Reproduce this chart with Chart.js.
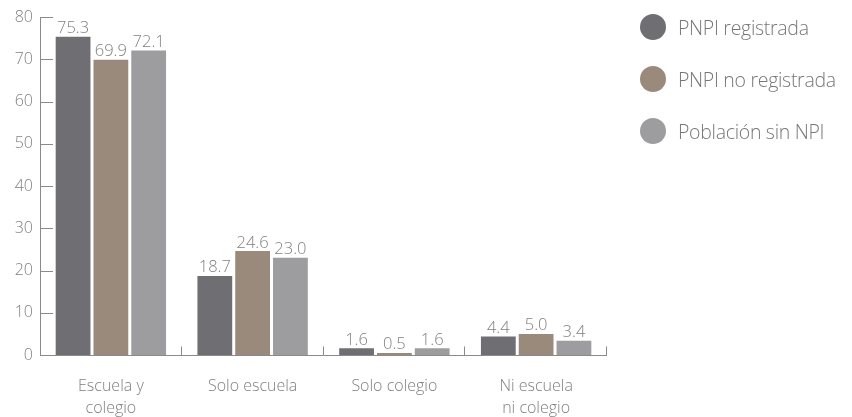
<!DOCTYPE html>
<html>
<head>
<meta charset="utf-8">
<script src="https://cdn.jsdelivr.net/npm/chart.js@4"></script>
<style>
  body { margin: 0; background: #fff; }
  #wrap { position: relative; width: 852px; height: 417px; }
  #legend { position: absolute; left: 640px; top: 0; font-family: "Open Sans", sans-serif; font-weight: 300; font-size: 19.5px; letter-spacing: -0.3px; color: #777; }
  .item { position: absolute; left: 0; white-space: nowrap; display: flex; align-items: center; height: 28px; }
  .dot { width: 26px; height: 26px; border-radius: 50%; margin-right: 12px; }
</style>
</head>
<body>
<div id="wrap">
  <canvas id="barChart" width="852" height="417"></canvas>
  <div id="legend"></div>
</div>
<script>
// Categories and series
const categories = [["Escuela y", "colegio"], "Solo escuela", "Solo colegio", ["Ni escuela", "ni colegio"]];
const seriesNames = ["PNPI registrada", "PNPI no registrada", "Población sin NPI"];
const registrada = [75.3, 18.7, 1.6, 4.4];
const noRegistrada = [69.9, 24.6, 0.5, 5.0];
const sinNpi = [72.1, 23.0, 1.6, 3.4];
const yTicks = [0, 10, 20, 30, 40, 50, 60, 70, 80];
const colors = ['#6f6e73', '#9a8a7c', '#9d9c9e'];

const textColor = '#808080';
const axisColor = '#8a8a8a';
const fontFamily = '"Open Sans", sans-serif';

// Legend as html
const legend = document.getElementById('legend');
seriesNames.forEach((name, i) => {
    const item = document.createElement('div');
    item.className = 'item';
    item.style.top = (13 + i * 52) + 'px';
    item.innerHTML = '<span class="dot" style="background:' + colors[i] + '"></span>' + name;
    legend.appendChild(item);
});

// Value labels above bars, plus the small axis ticks
const decorations = {
    id: 'decorations',
    afterDatasetsDraw(chart) {
        const ctx = chart.ctx;
        ctx.save();
        ctx.font = '300 16.5px ' + fontFamily;
        ctx.fillStyle = textColor;
        ctx.textAlign = 'center';
        ctx.textBaseline = 'bottom';
        chart.data.datasets.forEach((ds, i) => {
            chart.getDatasetMeta(i).data.forEach((bar, j) => {
                ctx.fillText(ds.data[j].toFixed(1), bar.x, bar.y);
            });
        });

        const area = chart.chartArea;
        const y = chart.scales.y;
        ctx.strokeStyle = axisColor;
        ctx.lineWidth = 1;
        ctx.beginPath();
        // y axis line and inward ticks
        ctx.moveTo(area.left + 0.5, area.top);
        ctx.lineTo(area.left + 0.5, area.bottom);
        yTicks.forEach(v => {
            if (v === 0) return;
            const py = Math.round(y.getPixelForValue(v)) + 0.5;
            ctx.moveTo(area.left, py);
            ctx.lineTo(area.left + 13, py);
        });
        // x axis line and upward ticks at category bounds
        const by = Math.round(area.bottom) + 0.5;
        ctx.moveTo(area.left, by);
        ctx.lineTo(area.right, by);
        const step = (area.right - area.left) / categories.length;
        for (let i = 1; i <= categories.length; i++) {
            const px = Math.round(area.left + i * step) - 0.5;
            ctx.moveTo(px, by);
            ctx.lineTo(px, by - 9);
        }
        ctx.stroke();
        ctx.restore();
    }
};

function renderBarChart() {
    const ctx = document.getElementById('barChart').getContext('2d');
    new Chart(ctx, {
        type: 'bar',
        data: {
            labels: categories,
            datasets: [
                { label: seriesNames[0], data: registrada, backgroundColor: colors[0] },
                { label: seriesNames[1], data: noRegistrada, backgroundColor: colors[1] },
                { label: seriesNames[2], data: sinNpi, backgroundColor: colors[2] }
            ]
        },
        options: {
            responsive: false,
            animation: false,
            layout: { padding: { top: 17, right: 245, left: 0, bottom: 0 } },
            categoryPercentage: 0.80,
            barPercentage: 0.92,
            plugins: { legend: { display: false }, tooltip: { enabled: false } },
            scales: {
                x: {
                    grid: { display: false, drawTicks: false },
                    border: { display: false },
                    afterFit(scale) { scale.height = 62; },
                    ticks: {
                        color: textColor,
                        padding: 20,
                        maxRotation: 0,
                        font: { family: fontFamily, size: 16, weight: 300, lineHeight: 1.4 }
                    }
                },
                y: {
                    min: 0,
                    max: 80,
                    grid: { display: false, drawTicks: false },
                    border: { display: false },
                    afterFit(scale) { scale.width = 40; },
                    afterBuildTicks(scale) { scale.ticks = yTicks.map(v => ({ value: v })); },
                    ticks: {
                        color: textColor,
                        padding: 7,
                        font: { family: fontFamily, size: 16, weight: 300 }
                    }
                }
            }
        },
        plugins: [decorations]
    });
}

renderBarChart();
</script>
</body>
</html>
